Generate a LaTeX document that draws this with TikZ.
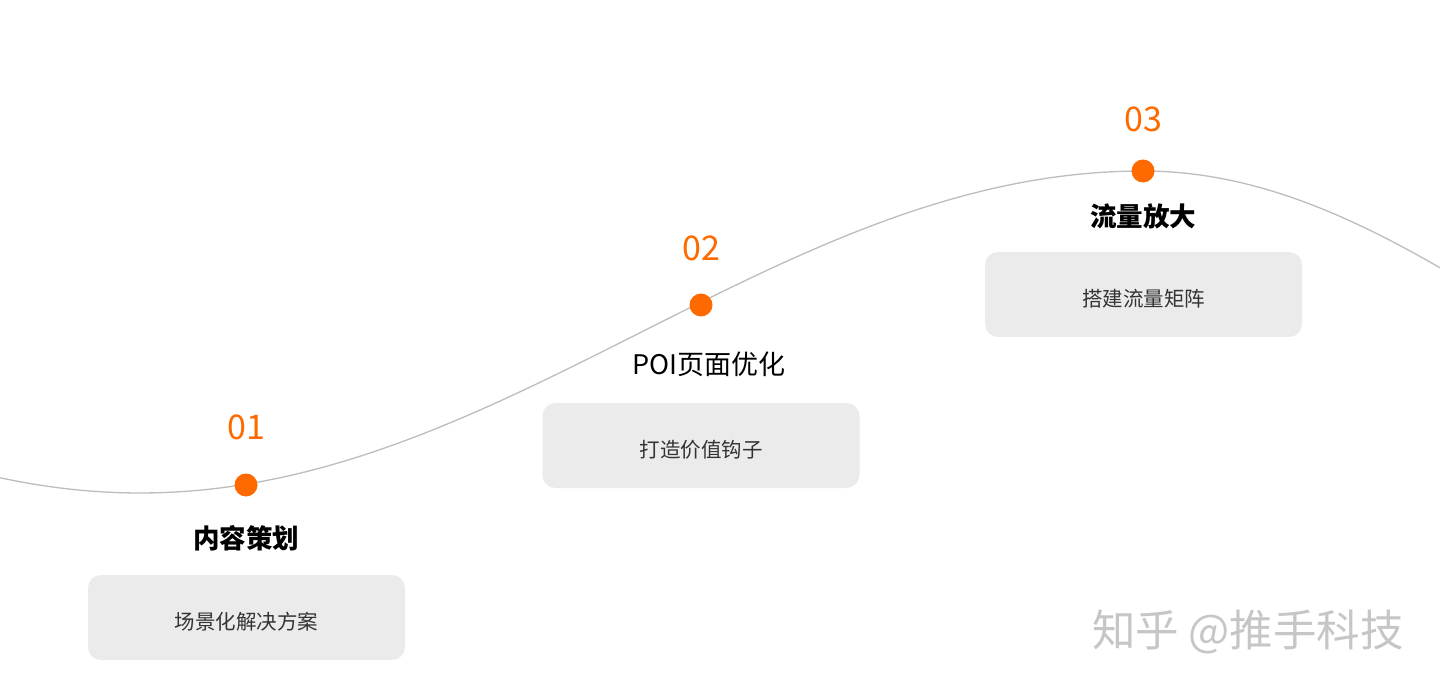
\documentclass[tikz,border=0pt]{standalone}
\usepackage{fontspec}
\setmainfont{Noto Sans CJK SC}
\newfontfamily\cjk{Noto Sans CJK SC}
\definecolor{accent}{HTML}{FF6A00}
\definecolor{boxgray}{HTML}{EBEBEB}
\definecolor{curvegray}{HTML}{BDBDBD}
\definecolor{txt}{HTML}{333333}
\tikzset{
  dot/.style={circle,fill=accent,minimum size=23pt,inner sep=0pt},
  num/.style={text=accent,font=\cjk\fontsize{34}{36}\selectfont},
  ttl/.style={text=black,font=\cjk\bfseries\fontsize{26.5}{29}\selectfont},
  ttlreg/.style={text=black,font=\cjk\fontsize{27}{30}\selectfont},
  card/.style={fill=boxgray,rounded corners=13pt,minimum width=317pt,minimum height=85pt,inner sep=0pt,text height=24.5pt,text depth=0pt,text=txt,font=\cjk\fontsize{20.5}{22}\selectfont},
  curve/.style={draw=curvegray,line width=1.3pt},
  wm/.style={text=gray!45,font=\cjk\fontsize{43.5}{46}\selectfont}
}
\begin{document}
\begin{tikzpicture}[x=1pt,y=-1pt]
\useasboundingbox (0,0) rectangle (1440,692);
\fill[white] (0,0) rectangle (1440,692);
% curve
\draw[curve] plot[domain=0:1143,samples=120] (\x,{332+161*cos(0.179462*(\x-140))})
  -- plot[domain=1143:1440,samples=40] (\x,{171+161*(1-cos(0.223881*(\x-1143)))});
% cards
\node[card] (c1) at (246.5,617.5) {场景化解决方案};
\node[card] (c2) at (701,445.5) {打造价值钩子};
\node[card] (c3) at (1143.5,294.5) {搭建流量矩阵};
% dots
\node[dot] (d1) at (246,485) {};
\node[dot] (d2) at (701,305) {};
\node[dot] (d3) at (1143,171) {};
% numbers
\node[num] (n1) at (246,427) {01};
\node[num] (n2) at (701,248) {02};
\node[num] (n3) at (1143,119) {03};
% titles
\node[ttl] (t1) at (246,538) {内容策划};
\node[ttlreg] (t2) at (709,364) {POI页面优化};
\node[ttl] (t3) at (1143,216) {流量放大};
% watermark
\node[text=white,font=\cjk\fontsize{43.5}{46}\selectfont] (wms) at (1249.5,633.5) {知乎 @推手科技};
\node[wm] (wm) at (1248,632) {知乎 @推手科技};
\end{tikzpicture}
\end{document}
